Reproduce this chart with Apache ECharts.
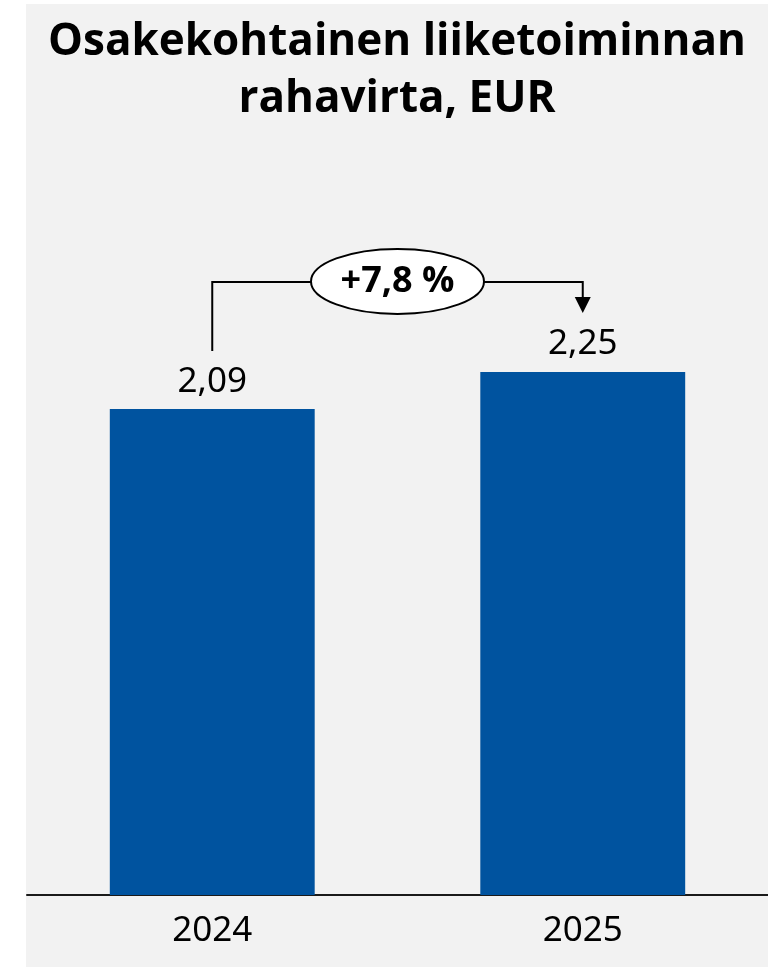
<!DOCTYPE html>
<html>
<head>
<meta charset="utf-8">
<script src="https://cdn.jsdelivr.net/npm/echarts@6/dist/echarts.min.js"></script>
<style>
  html, body { margin: 0; padding: 0; background: #ffffff; }
  #wrap { position: absolute; left: 26px; top: 4px; width: 742px; height: 963px; background: #f2f2f2; }
  #chart { width: 742px; height: 963px; }
</style>
</head>
<body>
<div id="wrap"><div id="chart"></div></div>
<script>
const categories = ['2024', '2025'];
const values = [2.09, 2.25];
const changeLabel = '+7,8 %';
const titleText = 'Osakekohtainen liiketoiminnan\nrahavirta, EUR';

const chart = echarts.init(document.getElementById('chart'));
const fmt = v => String(v.toFixed(2)).replace('.', ',');

chart.setOption({
  backgroundColor: 'transparent',
  animation: false,
  title: {
    text: titleText,
    left: 'center',
    top: 10,
    padding: 0,
    textStyle: { fontFamily: 'Open Sans', fontWeight: 'bold', fontSize: 44, lineHeight: 57, color: '#000' }
  },
  grid: { left: 1, right: 0, top: 193.5, bottom: 72 },
  xAxis: {
    type: 'category',
    data: categories,
    axisLine: { show: true, lineStyle: { color: '#1a1a1a', width: 2 } },
    axisTick: { show: false },
    axisLabel: { fontFamily: 'Noto Sans', fontSize: 35, color: '#000', margin: 19 }
  },
  yAxis: { type: 'value', min: 0, max: 3, show: false, splitLine: { show: false } },
  series: [{
    type: 'bar',
    data: values,
    barWidth: '55.3%',
    itemStyle: { color: '#00539f' },
    label: {
      show: true, position: 'top', distance: 10,
      fontFamily: 'Noto Sans', fontSize: 35, color: '#000',
      formatter: p => fmt(p.value)
    }
  }]
});

function drawAnnotation() {
  const p1 = chart.convertToPixel({ seriesIndex: 0 }, [0, values[0]]);
  const p2 = chart.convertToPixel({ seriesIndex: 0 }, [1, values[1]]);
  const x1 = p1[0], x2 = p2[0];
  const yBracket = p2[1] - 90;
  const y1End = p1[1] - 58;
  const y2Tip = p2[1] - 59;
  const cx = (x1 + x2) / 2;
  const cy = yBracket - 0.5;
  chart.setOption({
    graphic: [
      { type: 'polyline', shape: { points: [[x1, y1End], [x1, yBracket], [x2, yBracket], [x2, y2Tip - 15]] },
        style: { stroke: '#000', lineWidth: 2, fill: null } },
      { type: 'polygon', shape: { points: [[x2, y2Tip], [x2 - 8, y2Tip - 16], [x2 + 8, y2Tip - 16]] },
        style: { fill: '#000' } },
      { type: 'ellipse', shape: { cx: cx, cy: cy, rx: 86.5, ry: 32.5 },
        style: { fill: '#ffffff', stroke: '#000', lineWidth: 2 }, z: 10 },
      { type: 'text', x: cx, y: cy, z: 11,
        style: { text: changeLabel, fontFamily: 'Open Sans', fontWeight: 'bold', fontSize: 36,
                 fill: '#000', align: 'center', verticalAlign: 'middle' } }
    ]
  });
}
drawAnnotation();
</script>
</body>
</html>
